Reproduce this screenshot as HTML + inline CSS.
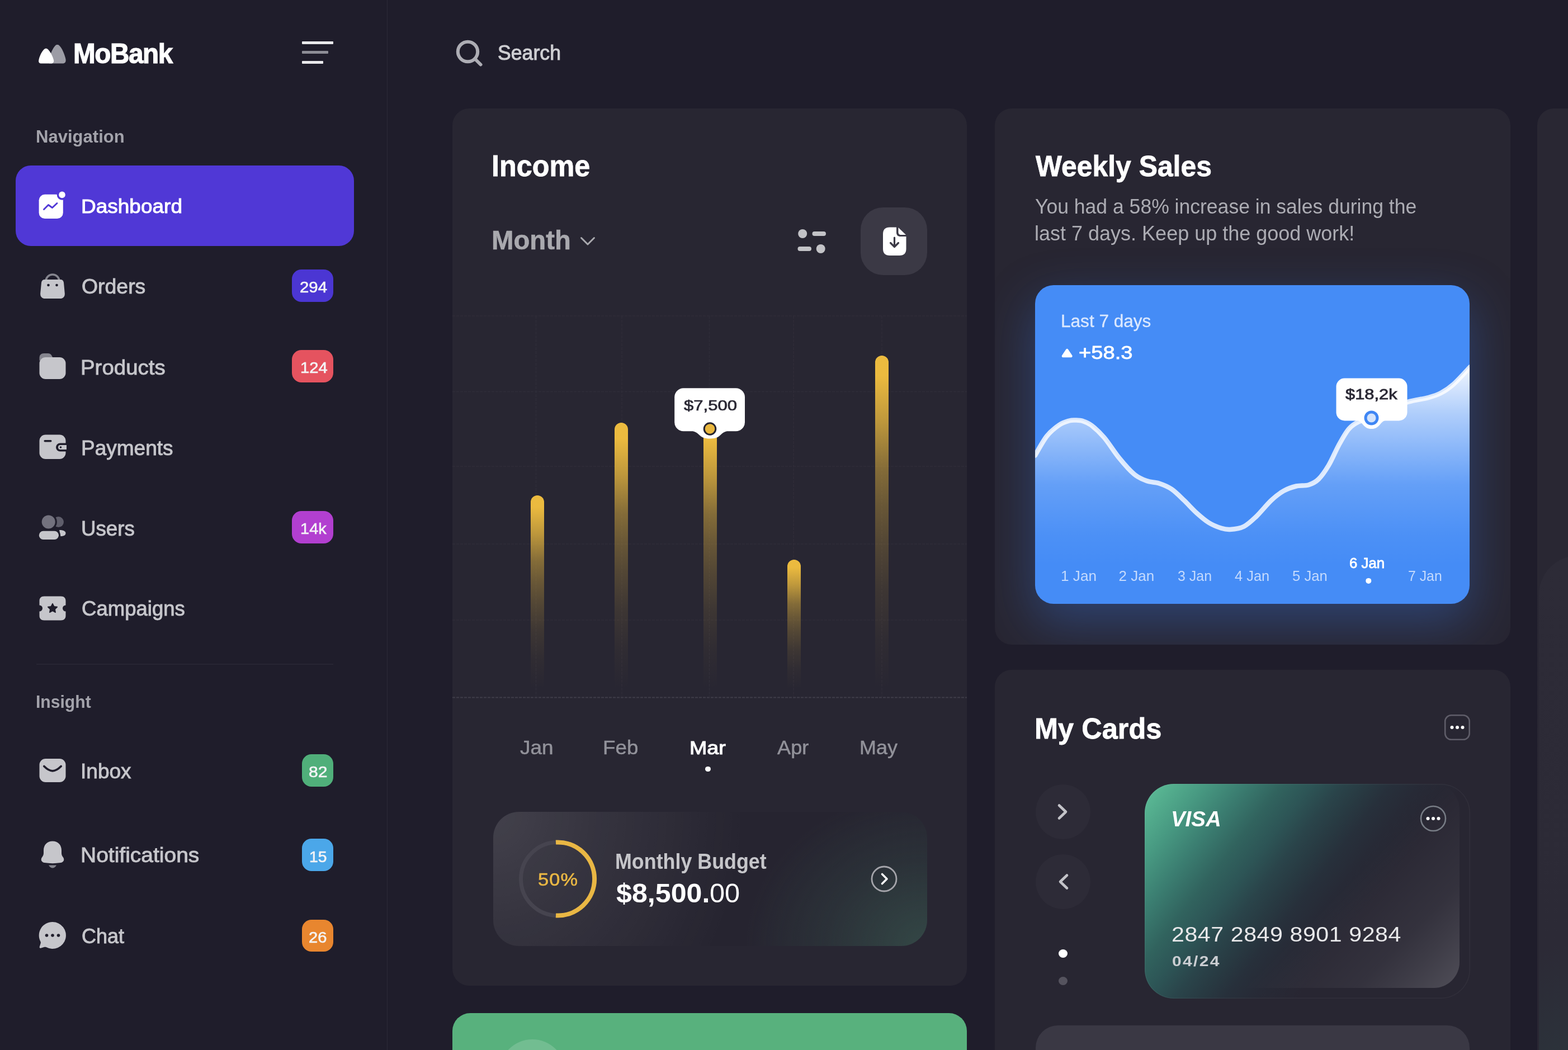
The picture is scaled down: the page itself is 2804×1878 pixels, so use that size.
<!DOCTYPE html>
<html lang="en">
<head>
<meta charset="utf-8">
<title>MoBank Dashboard</title>
<style>
html,body{margin:0;padding:0}
body{background:#1f1d2b;font-family:"Liberation Sans",Arial,sans-serif}
.page{position:relative;width:2804px;height:1878px;overflow:hidden;background:#1f1d2b}
.g{display:contents}
.a{position:absolute;display:block}
.t{position:absolute;white-space:nowrap;line-height:1;transform-origin:0 0}
.sb{position:absolute;left:0;top:0;width:692px;height:1878px;border-right:1.6px solid #2c2a38}
.card{background:#282632;border-radius:30px}
.bdg{height:57.5px;border-radius:17px;color:#fff;font-weight:700;font-size:27.5px;line-height:65.5px;text-align:center;letter-spacing:.6px}
.bar{width:24px;border-radius:12px 12px 0 0;background:linear-gradient(180deg,#ecbb3f 0%,#ebba3f 6%,rgba(235,186,63,.76) 20%,rgba(235,186,63,.47) 34%,rgba(235,186,63,.33) 45%,rgba(235,186,63,.22) 56%,rgba(235,186,63,.11) 70%,rgba(235,186,63,.04) 85%,rgba(235,186,63,0) 100%)}
</style>
</head>
<body>
<div class="page">
<aside class="g" aria-label="Sidebar navigation">
<div class="sb"></div>
<svg class="a" style="left:66px;top:76px" width="56" height="42" viewBox="0 0 56 42">
<path d="M22 37.5 L22 30 C24 20 29 9 33 5.5 C35 3.6 38 3.6 40 5.5 C45 10 50 22 51.5 30 C52.3 35 50 37.5 46 37.5 Z" fill="#9c9ca5"/>
<path d="M7.5 37.5 C4 37.5 2.6 35 3.3 31.5 C4.5 25 8.5 16.5 12.5 12.5 C14.7 10.3 17.8 10.3 20 12.5 C24 16.5 28.5 25 30 31.5 C30.8 35 29 37.5 25.5 37.5 Z" fill="#fff"/>
</svg>
<div class="t" style="left:130.7px;top:71px;transform:scaleX(0.944);font-size:50.5px;color:#fff;font-weight:700;letter-spacing:-1.5px;-webkit-text-stroke:1.2px #fff;">MoBank</div>
<div class="a" style="left:540px;top:74.4px;width:56px;height:5px;background:#e9e9ec;border-radius:1px"></div>
<div class="a" style="left:540px;top:91.4px;width:47px;height:5px;background:#8d8d96;border-radius:1px"></div>
<div class="a" style="left:540px;top:108.6px;width:38px;height:5px;background:#e9e9ec;border-radius:1px"></div>
<div class="t" style="left:63.5px;top:228px;transform:scaleX(0.97);font-size:32px;color:#a3a3ab;font-weight:700;">Navigation</div>
<div class="a" style="left:28px;top:295.5px;width:604.5px;height:144px;border-radius:27px;background:#5038d6"></div>
<svg class="a" style="left:66px;top:338px" width="56" height="56" viewBox="0 0 56 56">
<rect x="3.6" y="9.8" width="43.2" height="43.2" rx="10.5" fill="#fff"/>
<circle cx="45" cy="10.4" r="9.3" fill="#5038d6"/>
<circle cx="45" cy="10.4" r="5.8" fill="#fff"/>
<path d="M12.5 36.5 L20.5 28.5 L27.5 33.5 L36 25.5" fill="none" stroke="#5038d6" stroke-width="2.9" stroke-linecap="round" stroke-linejoin="round"/>
</svg>
<div class="t" style="left:144.7px;top:352px;transform:scaleX(1.042);font-size:35.5px;color:#fff;-webkit-text-stroke:1px #fff;">Dashboard</div>
<div class="t" style="left:145.8px;top:495px;transform:scaleX(1.039);font-size:36px;color:#c6c6cb;-webkit-text-stroke:0.9px #c6c6cb;">Orders</div>
<div class="a bdg" style="left:522px;top:482px;width:74px;background:#4b36d3"></div>
<div class="t" style="left:536.4px;top:500px;transform:scaleX(1.067);font-size:27.5px;color:#f4f4f6;-webkit-text-stroke:0.6px #f4f4f6;">294</div>
<div class="t" style="left:144.4px;top:640px;transform:scaleX(1.067);font-size:36px;color:#c6c6cb;-webkit-text-stroke:0.9px #c6c6cb;">Products</div>
<div class="a bdg" style="left:522px;top:626px;width:74px;background:#e5535f"></div>
<div class="t" style="left:536.6px;top:644px;transform:scaleX(1.063);font-size:27.5px;color:#f4f4f6;-webkit-text-stroke:0.6px #f4f4f6;">124</div>
<div class="t" style="left:144.5px;top:784px;transform:scaleX(1.028);font-size:36px;color:#c6c6cb;-webkit-text-stroke:0.9px #c6c6cb;">Payments</div>
<div class="t" style="left:144.8px;top:928px;transform:scaleX(1.019);font-size:36px;color:#c6c6cb;-webkit-text-stroke:0.9px #c6c6cb;">Users</div>
<div class="a bdg" style="left:522px;top:914px;width:74px;background:#b23fd0"></div>
<div class="t" style="left:536.8px;top:932px;transform:scaleX(1.056);font-size:27.5px;color:#f4f4f6;-webkit-text-stroke:0.6px #f4f4f6;">14k</div>
<div class="t" style="left:145.8px;top:1071px;transform:scaleX(1.015);font-size:36px;color:#c6c6cb;-webkit-text-stroke:0.9px #c6c6cb;">Campaigns</div>
<div class="t" style="left:144.3px;top:1362px;transform:scaleX(1.029);font-size:36px;color:#c6c6cb;-webkit-text-stroke:0.9px #c6c6cb;">Inbox</div>
<div class="a bdg" style="left:540px;top:1349px;width:56px;background:#50af7a"></div>
<div class="t" style="left:551.7px;top:1367px;transform:scaleX(1.096);font-size:27.5px;color:#f4f4f6;-webkit-text-stroke:0.6px #f4f4f6;">82</div>
<div class="t" style="left:144.4px;top:1512px;transform:scaleX(1.083);font-size:36px;color:#c6c6cb;-webkit-text-stroke:0.9px #c6c6cb;">Notifications</div>
<div class="a bdg" style="left:540px;top:1500.3px;width:56px;background:#4ba7e9"></div>
<div class="t" style="left:552.5px;top:1519px;transform:scaleX(1.029);font-size:27.5px;color:#f4f4f6;-webkit-text-stroke:0.6px #f4f4f6;">15</div>
<div class="t" style="left:145.9px;top:1657px;font-size:36px;color:#c6c6cb;-webkit-text-stroke:0.9px #c6c6cb;">Chat</div>
<div class="a bdg" style="left:540px;top:1644.7px;width:56px;background:#e8862f"></div>
<div class="t" style="left:552.1px;top:1663px;transform:scaleX(1.061);font-size:27.5px;color:#f4f4f6;-webkit-text-stroke:0.6px #f4f4f6;">26</div>
<div class="a" style="left:65px;top:1187px;width:531px;height:2px;background:#272533"></div>
<div class="t" style="left:63.5px;top:1239px;transform:scaleX(0.941);font-size:32px;color:#a3a3ab;font-weight:700;">Insight</div>
<svg class="a" style="left:66px;top:483.5px" width="56" height="56" viewBox="0 0 56 56"><path d="M16 24 v-5 a12 12 0 0 1 24 0 v5" fill="none" stroke="#85858e" stroke-width="3.6"/>
<path d="M14 16 h28 c3.5 0 5.6 2 6 5.5 l1.8 19 c.5 5.5 -2.6 9.5 -8.5 9.5 h-26.6 c-5.9 0 -9 -4 -8.5 -9.5 l1.8 -19 c.4 -3.5 2.5 -5.5 6 -5.5z" fill="#c6c6cb"/>
<circle cx="20.5" cy="26" r="2.3" fill="#1f1d2b"/><circle cx="35.5" cy="26" r="2.3" fill="#1f1d2b"/></svg>
<svg class="a" style="left:66px;top:627px" width="56" height="56" viewBox="0 0 56 56"><path d="M4.5 18 v-5 c0 -5 3 -8 8 -8 h7 c3.5 0 5.5 1.5 7 4 l3 6z" fill="#85858e"/>
<rect x="4.5" y="12" width="47" height="39" rx="11" fill="#c6c6cb"/></svg>
<svg class="a" style="left:66px;top:771px" width="56" height="56" viewBox="0 0 56 56"><rect x="4.5" y="6.5" width="47" height="43.5" rx="11" fill="#c6c6cb"/>
<rect x="12.5" y="16" width="14" height="3.5" rx="1.7" fill="#1f1d2b"/>
<path d="M53 21.5 h-11.5 a7.5 7.5 0 0 0 0 15 h11.5z" fill="#1f1d2b"/>
<path d="M53 25 h-11 a4 4 0 0 0 0 8 h11z" fill="#c6c6cb"/>
<circle cx="42.5" cy="29" r="1.8" fill="#1f1d2b"/></svg>
<svg class="a" style="left:66px;top:915px" width="56" height="56" viewBox="0 0 56 56"><circle cx="38.5" cy="18.6" r="9.5" fill="#5f5e6b"/>
<circle cx="20.7" cy="18.6" r="15.2" fill="#1f1d2b"/>
<circle cx="20.7" cy="18.6" r="12" fill="#73727e"/>
<path d="M40 33 c6.5 0 11.5 1.8 11.5 5.6 c0 3.8 -3.5 5.6 -9 5.6z" fill="#c6c6cb"/>
<rect x="0.5" y="31.7" width="41.5" height="21.3" rx="10.6" fill="#1f1d2b"/>
<rect x="3.8" y="34.7" width="35.2" height="15.3" rx="7.6" fill="#c6c6cb"/></svg>
<svg class="a" style="left:66px;top:1059.5px" width="56" height="56" viewBox="0 0 56 56"><path d="M13 6.5 h30 c5.5 0 8.5 3 8.5 8.5 v7.5 a5.5 5.5 0 0 0 0 11 v7.5 c0 5.5 -3 8.5 -8.5 8.5 h-30 c-5.5 0 -8.5 -3 -8.5 -8.5 v-7.5 a5.5 5.5 0 0 0 0 -11 v-7.5 c0 -5.5 3 -8.5 8.5 -8.5z" fill="#c6c6cb"/>
<path d="M28 19.5 l2.6 5.2 l5.7 .9 l-4.1 4 l1 5.7 l-5.2 -2.7 l-5.2 2.7 l1 -5.7 l-4.1 -4 l5.7 -.9z" fill="#1f1d2b" stroke="#1f1d2b" stroke-width="1.5" stroke-linejoin="round"/></svg>
<svg class="a" style="left:66px;top:1349.7px" width="56" height="56" viewBox="0 0 56 56"><rect x="4.5" y="7" width="47" height="42" rx="11" fill="#c6c6cb"/>
<path d="M12.8 20.5 c5.5 5.5 10.5 8.3 15.2 8.3 c4.7 0 9.7 -2.8 15.2 -8.3" fill="none" stroke="#1f1d2b" stroke-width="3.8" stroke-linecap="round"/></svg>
<svg class="a" style="left:66px;top:1500.7px" width="56" height="56" viewBox="0 0 56 56"><path d="M28 3.5 c-10 0 -16 7 -16 16.5 v5 c0 3 -1.2 5 -3 7.5 c-2.5 3.5 -1.5 8.5 4.5 9.5 c10 1.5 19 1.5 29 0 c6 -1 7 -6 4.5 -9.5 c-1.8 -2.5 -3 -4.5 -3 -7.5 v-5 c0 -9.5 -6 -16.5 -16 -16.5z" fill="#c6c6cb"/>
<path d="M21 46.5 c2 3.5 4.5 5 7 5 c2.5 0 5 -1.5 7 -5z" fill="#85858e"/></svg>
<svg class="a" style="left:66px;top:1645px" width="56" height="56" viewBox="0 0 56 56"><path d="M28 4 a24 24 0 1 1 -11.5 45.1 c-1 -.5 -2 -.6 -3 -.3 l-6.5 2 c-1.5 .5 -2.8 -.9 -2.3 -2.4 l2 -6.3 c.3 -1 .2 -2 -.3 -3 a24 24 0 0 1 21.6 -35.1z" fill="#c6c6cb"/>
<circle cx="17.5" cy="28" r="2.8" fill="#1f1d2b"/><circle cx="28" cy="28" r="2.8" fill="#1f1d2b"/><circle cx="38.5" cy="28" r="2.8" fill="#1f1d2b"/></svg>
</aside>
<header class="g" aria-label="Search">
<svg class="a" style="left:810px;top:66px" width="60" height="60" viewBox="0 0 60 60">
<circle cx="26.5" cy="26.5" r="17.7" fill="none" stroke="#adadb4" stroke-width="6"/>
<path d="M39.5 39.5 L49.5 49.5" stroke="#adadb4" stroke-width="6" stroke-linecap="round"/></svg>
<div class="t" style="left:890.3px;top:77px;transform:scaleX(0.977);font-size:36.5px;color:#cfcfd3;-webkit-text-stroke:1px #cfcfd3;">Search</div>
</header>
<section class="g" aria-label="Income">
<div class="a card" style="left:809px;top:194px;width:920px;height:1569px"></div>
<div class="t" style="left:879.3px;top:270px;transform:scaleX(0.941);font-size:53.5px;color:#fff;font-weight:700;-webkit-text-stroke:0.8px #fff;">Income</div>
<div class="t" style="left:879.4px;top:406px;transform:scaleX(0.985);font-size:48px;color:#a9a9ae;font-weight:700;-webkit-text-stroke:0.6px #a9a9ae;">Month</div>
<svg class="a" style="left:1033px;top:417px" width="36" height="28" viewBox="0 0 36 28"><path d="M6.5 8.5 L18 20 L29.5 8.5" fill="none" stroke="#a9a9ae" stroke-width="3" stroke-linecap="round" stroke-linejoin="round"/></svg>
<svg class="a" style="left:1420px;top:404px" width="64" height="56" viewBox="0 0 64 56">
<circle cx="15.2" cy="14" r="8" fill="#c3c3c7"/><rect x="32.5" y="10" width="24.5" height="8" rx="4" fill="#c3c3c7"/>
<rect x="6.5" y="37" width="24.5" height="8" rx="4" fill="#c3c3c7"/><circle cx="47.7" cy="41" r="8" fill="#c3c3c7"/></svg>
<div class="a" style="left:1539px;top:371px;width:118.5px;height:120.5px;border-radius:40px;background:#3b3945"></div>
<svg class="a" style="left:1570px;top:400px" width="60" height="64" viewBox="0 0 60 64">
<path d="M21 6.5 h12 v9 c0 5 2.5 7.5 7.5 7.5 h10 v22 c0 8 -4 12 -12 12 h-17.5 c-8 0 -12 -4 -12 -12 v-26.5 c0 -8 4 -12 12 -12z" fill="#fff"/>
<path d="M36.5 7 l13.5 13 h-8.5 c-3.5 0 -5 -1.5 -5 -5z" fill="#fff"/>
<path d="M29.5 25 v15 M22.5 34.5 l7 7 l7 -7" fill="none" stroke="#3b3945" stroke-width="3.2" stroke-linecap="round" stroke-linejoin="round"/></svg>
<svg class="a" style="left:809px;top:540px" width="920" height="730" viewBox="809 540 920 730"><path d="M809 565 H1729" stroke="#2f2d39" stroke-width="1.5" stroke-dasharray="5 2"/><path d="M809 700.5 H1729" stroke="#2f2d39" stroke-width="1.5" stroke-dasharray="5 2"/><path d="M809 834 H1729" stroke="#2f2d39" stroke-width="1.5" stroke-dasharray="5 2"/><path d="M809 973 H1729" stroke="#2f2d39" stroke-width="1.5" stroke-dasharray="5 2"/><path d="M809 1109 H1729" stroke="#2f2d39" stroke-width="1.5" stroke-dasharray="5 2"/><path d="M809 1247.5 H1729" stroke="#3f3d49" stroke-width="2.2" stroke-dasharray="5 2"/><path d="M958.5 565 V1247" stroke="#2f2d39" stroke-width="1.5" stroke-dasharray="5 2"/><path d="M1112 565 V1247" stroke="#2f2d39" stroke-width="1.5" stroke-dasharray="5 2"/><path d="M1268.5 565 V1247" stroke="#2f2d39" stroke-width="1.5" stroke-dasharray="5 2"/><path d="M1419 565 V1247" stroke="#2f2d39" stroke-width="1.5" stroke-dasharray="5 2"/><path d="M1577 565 V1247" stroke="#2f2d39" stroke-width="1.5" stroke-dasharray="5 2"/></svg>
<div class="a bar" style="left:948.8px;top:886px;height:346px"></div>
<div class="a bar" style="left:1099px;top:756px;height:476px"></div>
<div class="a bar" style="left:1257.5px;top:758px;height:474px"></div>
<div class="a bar" style="left:1407.8px;top:1001px;height:231px"></div>
<div class="a bar" style="left:1565.3px;top:636px;height:596px"></div>
<svg class="a" style="left:1195px;top:683px" width="150" height="112" viewBox="1195 683 150 112">
<rect x="1206.2" y="694.3" width="125.8" height="77" rx="16" fill="#fff"/>
<path d="M1228 770 c12 0 17 2.5 22 7.5 c4.5 4.5 9.5 7 19.5 7 c10 0 15 -2.5 19.5 -7 c5 -5 10 -7.5 22 -7.5z" fill="#fff"/>
<circle cx="1269.5" cy="767" r="10.3" fill="#e9b73e" stroke="#26242f" stroke-width="3"/></svg>
<div class="t" style="left:1222.6px;top:713px;transform:scaleX(1.244);font-size:25px;color:#2a2834;-webkit-text-stroke:0.7px #2a2834;">$7,500</div>
<div class="t" style="left:930.4px;top:1320px;transform:scaleX(1.071);font-size:34.5px;color:#92929a;-webkit-text-stroke:0.5px #92929a;">Jan</div>
<div class="t" style="left:1077.9px;top:1320px;transform:scaleX(1.065);font-size:34.5px;color:#92929a;-webkit-text-stroke:0.5px #92929a;">Feb</div>
<div class="t" style="left:1233px;top:1321px;transform:scaleX(1.123);font-size:33.5px;color:#fff;-webkit-text-stroke:1.1px #fff;">Mar</div>
<div class="t" style="left:1390.3px;top:1320px;transform:scaleX(1.049);font-size:34.5px;color:#92929a;-webkit-text-stroke:0.5px #92929a;">Apr</div>
<div class="t" style="left:1537.2px;top:1320px;transform:scaleX(1.043);font-size:34.5px;color:#92929a;-webkit-text-stroke:0.5px #92929a;">May</div>
<div class="a" style="left:1261px;top:1370.5px;width:9.5px;height:9.5px;border-radius:50%;background:#fff"></div>
<div class="a" style="left:881.5px;top:1451.5px;width:776.5px;height:240.5px;border-radius:46px;background:radial-gradient(ellipse 58% 210% at 0% 0%,rgba(255,255,255,.135) 0%,rgba(255,255,255,.065) 45%,rgba(255,255,255,0) 100%),radial-gradient(ellipse 42% 115% at 100% 100%,rgba(70,120,100,.42) 0%,rgba(70,120,100,.16) 55%,rgba(70,120,100,0) 100%),#262430"></div>
<svg class="a" style="left:916.8px;top:1492.3px" width="160" height="160" viewBox="0 0 160 160">
<circle cx="80" cy="80" r="65.5" fill="none" stroke="#46444f" stroke-width="7"/>
<path d="M77 14.6 A65.5 65.5 0 1 1 77 145.4" fill="none" stroke="#e9b744" stroke-width="8"/></svg>
<div class="t" style="left:962.3px;top:1557px;transform:scaleX(1.074);font-size:32px;color:#e9b744;letter-spacing:1px;-webkit-text-stroke:0.6px #e9b744;">50%</div>
<div class="t" style="left:1099.8px;top:1522px;transform:scaleX(0.943);font-size:38px;color:#c6c6ca;font-weight:700;">Monthly Budget</div>
<div class="t" style="left:1101.7px;top:1574px;transform:scaleX(1.056);font-size:47.5px;color:#fff;font-weight:700;">$8,500.</div>
<div class="t" style="left:1268.7px;top:1574px;transform:scaleX(1.025);font-size:47.5px;color:#fff;">00</div>
<svg class="a" style="left:1550.8px;top:1542px" width="60" height="60" viewBox="0 0 60 60">
<circle cx="30" cy="30" r="22" fill="none" stroke="#a4a4aa" stroke-width="2.8"/>
<path d="M26.5 21.5 L35 30 L26.5 38.5" fill="none" stroke="#fff" stroke-width="3.6" stroke-linecap="round" stroke-linejoin="round"/></svg>
<div class="a" style="left:809px;top:1811.5px;width:920px;height:120px;border-radius:32px;background:#58b17d;overflow:hidden"><div class="a" style="left:84px;top:47px;width:118px;height:118px;border-radius:50%;background:rgba(255,255,255,.16)"></div></div>
</section>
<section class="g" aria-label="Weekly Sales">
<div class="a card" style="left:1779px;top:194px;width:922px;height:958.5px;overflow:hidden"><div class="a" style="left:71.5px;top:315.5px;width:777.5px;height:570px;border-radius:33px;background:#458cf6;box-shadow:0 32px 86px 4px rgba(58,120,230,.34)"></div></div>
<div class="t" style="left:1852px;top:271px;transform:scaleX(0.949);font-size:52.5px;color:#fff;font-weight:700;-webkit-text-stroke:0.8px #fff;">Weekly Sales</div>
<div class="t" style="left:1850.8px;top:352px;transform:scaleX(0.987);font-size:36px;color:#acacb3;">You had a 58% increase in sales during the</div>
<div class="t" style="left:1850px;top:400px;font-size:36px;color:#acacb3;">last 7 days. Keep up the good work!</div>
<div class="a" style="left:1850.5px;top:509.5px;width:777.5px;height:570px;border-radius:33px;overflow:hidden"><div class="a" style="left:0;top:0;width:777.5px;height:570px;background:linear-gradient(180deg,rgba(255,255,255,.95) 140.5px,rgba(255,255,255,.57) 230.5px,rgba(255,255,255,.17) 356.5px,rgba(255,255,255,.04) 446.5px,rgba(255,255,255,0) 500.5px);clip-path:path('M0 304.5 C3.5 298.8 13.8 279.1 21 270 C28.2 260.9 36.6 254.6 43.3 250 C50 245.4 56.2 243.9 61 242.5 C65.8 241.1 68.2 241.4 72.3 241.5 C76.4 241.6 80.7 241.5 85.5 243.1 C90.3 244.7 95 246.2 101.3 251.1 C107.6 256 115.3 262.9 123.5 272.5 C131.7 282.1 141.4 298.1 150.3 309 C159.2 319.9 168.9 331.1 177.1 338 C185.3 344.9 192 347.4 199.4 350.1 C206.8 352.9 214.3 352.1 221.7 354.5 C229.1 356.9 236.6 359.7 244 364.8 C251.4 369.8 258.9 377.7 266.3 384.8 C273.7 391.8 281.1 400.4 288.5 407.1 C295.9 413.8 303.5 420.4 310.9 425 C318.4 429.6 326.9 432.8 333.2 434.8 C339.5 436.8 342.1 437.5 348.8 437 C355.5 436.5 365.5 435.6 373.3 431.7 C381.1 427.8 387.3 421.6 395.5 413.8 C403.7 406 414.2 392.4 422.4 384.8 C430.6 377.1 437.3 372.1 444.7 367.9 C452.1 363.7 459.6 361.3 467 359.5 C474.4 357.7 482.6 359.3 489.3 357.2 C496 355.1 501.2 352.7 507.1 346.9 C513 341.1 519 332.4 524.9 322.4 C530.9 312.4 536.9 297.5 542.8 286.7 C548.8 275.9 554.6 264.8 560.6 257.7 C566.5 250.7 571.7 247.7 578.5 244.4 C585.3 241.1 592.2 241.5 601.5 237.7 C610.8 233.9 623.5 226.3 634.5 221.5 C645.5 216.7 656 212.1 667.5 208.7 C679 205.3 693.6 203.7 703.3 201.1 C713 198.5 718.1 197 725.5 193.1 C732.9 189.2 739.2 185.3 747.9 177.5 C756.7 169.7 773 151.4 778 146.2 V571 H0 Z')"></div></div>
<svg class="a" style="left:1850.5px;top:509.5px;border-radius:33px" width="777.5" height="570" viewBox="1850.5 509.5 777.5 570">
<path d="M1850.5 814 C1854 808.2 1864.3 788.6 1871.5 779.5 C1878.7 770.4 1887.1 764.1 1893.8 759.5 C1900.5 754.9 1906.7 753.4 1911.5 752 C1916.3 750.6 1918.7 750.9 1922.8 751 C1926.9 751.1 1931.2 751 1936 752.6 C1940.8 754.2 1945.5 755.7 1951.8 760.6 C1958.1 765.5 1965.8 772.4 1974 782 C1982.2 791.6 1991.9 807.6 2000.8 818.5 C2009.7 829.4 2019.4 840.6 2027.6 847.5 C2035.8 854.4 2042.5 856.9 2049.9 859.6 C2057.3 862.4 2064.8 861.5 2072.2 864 C2079.6 866.5 2087.1 869.2 2094.5 874.3 C2101.9 879.3 2109.4 887.2 2116.8 894.3 C2124.2 901.3 2131.6 909.9 2139 916.6 C2146.4 923.3 2154 929.9 2161.4 934.5 C2168.8 939.1 2177.4 942.3 2183.7 944.3 C2190 946.3 2192.6 947 2199.3 946.5 C2206 946 2216 945.1 2223.8 941.2 C2231.6 937.3 2237.8 931.1 2246 923.3 C2254.2 915.5 2264.7 901.9 2272.9 894.3 C2281.1 886.6 2287.8 881.6 2295.2 877.4 C2302.6 873.2 2310.1 870.8 2317.5 869 C2324.9 867.2 2333.1 868.8 2339.8 866.7 C2346.5 864.6 2351.7 862.2 2357.6 856.4 C2363.5 850.6 2369.4 841.9 2375.4 831.9 C2381.4 821.9 2387.4 807 2393.3 796.2 C2399.2 785.4 2405.2 774.2 2411.1 767.2 C2417 760.2 2422.2 757.2 2429 753.9 C2435.8 750.6 2442.7 751 2452 747.2 C2461.3 743.4 2474 735.8 2485 731 C2496 726.2 2506.5 721.6 2518 718.2 C2529.5 714.8 2544.1 713.2 2553.8 710.6 C2563.5 708 2568.6 706.5 2576 702.6 C2583.4 698.7 2589.7 694.8 2598.4 687 C2607.2 679.2 2623.5 660.9 2628.5 655.7" fill="none" stroke="#fff" stroke-opacity=".8" stroke-width="8.5" stroke-linecap="round"/>
<rect x="2389" y="676" width="127" height="76" rx="15" fill="#fff"/>
<path d="M2418 750 c10 0 14 3 18 8 c4 5 8 8.5 16 8.5 c8 0 12 -3.5 16 -8.5 c4 -5 8 -8 18 -8z" fill="#fff"/>
<circle cx="2452" cy="747" r="10.5" fill="#d3e3fc" stroke="#3f86f4" stroke-width="5"/>
<path d="M1907.7 623.3 c-.8 0 -1.5 .4 -2 1.1 l-7 10.5 c-1.2 1.8 0 3.9 2.2 3.9 h13.6 c2.2 0 3.4 -2.1 2.2 -3.9 l-7 -10.5 c-.5 -.7 -1.2 -1.1 -2 -1.1z" fill="#fff"/>
<circle cx="2446.8" cy="1038.4" r="5" fill="#fff"/>
</svg>
<div class="t" style="left:1896.7px;top:559px;transform:scaleX(1.018);font-size:31px;color:#dbe8fe;-webkit-text-stroke:0.3px #dbe8fe;">Last 7 days</div>
<div class="t" style="left:1929.2px;top:614px;transform:scaleX(1.157);font-size:33px;color:#fff;-webkit-text-stroke:0.8px #fff;">+58.3</div>
<div class="t" style="left:2405.6px;top:693px;transform:scaleX(1.209);font-size:25.5px;color:#2a2834;-webkit-text-stroke:0.8px #2a2834;">$18,2k</div>
<div class="t" style="left:1897px;top:1017px;transform:scaleX(1.007);font-size:26px;color:#c4dafd;">1 Jan</div>
<div class="t" style="left:2000.5px;top:1017px;font-size:26px;color:#c4dafd;">2 Jan</div>
<div class="t" style="left:2105.5px;top:1017px;transform:scaleX(0.959);font-size:26px;color:#c4dafd;">3 Jan</div>
<div class="t" style="left:2207.7px;top:1017px;transform:scaleX(0.979);font-size:26px;color:#c4dafd;">4 Jan</div>
<div class="t" style="left:2310.7px;top:1017px;transform:scaleX(0.987);font-size:26px;color:#c4dafd;">5 Jan</div>
<div class="t" style="left:2518.3px;top:1017px;transform:scaleX(0.955);font-size:26px;color:#c4dafd;">7 Jan</div>
<div class="t" style="left:2412.5px;top:995px;transform:scaleX(1.031);font-size:25px;color:#fff;-webkit-text-stroke:0.8px #fff;">6 Jan</div>
</section>
<section class="g" aria-label="My Cards">
<div class="a card" style="left:1779px;top:1198px;width:922px;height:760px"></div>
<div class="t" style="left:1849.7px;top:1277px;transform:scaleX(0.962);font-size:52.5px;color:#fff;font-weight:700;-webkit-text-stroke:0.8px #fff;">My Cards</div>
<svg class="a" style="left:2576px;top:1271px" width="60" height="60" viewBox="0 0 60 60">
<rect x="8.2" y="8.3" width="43.5" height="43.5" rx="11" fill="none" stroke="#5f5d69" stroke-width="2.6"/>
<circle cx="20.5" cy="30" r="3" fill="#fff"/><circle cx="30" cy="30" r="3" fill="#fff"/><circle cx="39.5" cy="30" r="3" fill="#fff"/></svg>
<div class="a" style="left:1851.5px;top:1403px;width:98px;height:98px;border-radius:50%;background:#2d2b37"></div>
<svg class="a" style="left:1870.5px;top:1422px" width="60" height="60" viewBox="0 0 60 60"><path d="M23 18.5 L35 30 L23 41.5" fill="none" stroke="#c3c3c8" stroke-width="4.6" stroke-linecap="round" stroke-linejoin="round"/></svg>
<div class="a" style="left:1851.5px;top:1528px;width:98px;height:98px;border-radius:50%;background:#2d2b37"></div>
<svg class="a" style="left:1870.5px;top:1547px" width="60" height="60" viewBox="0 0 60 60"><path d="M37 18.5 L25 30 L37 41.5" fill="none" stroke="#c3c3c8" stroke-width="4.6" stroke-linecap="round" stroke-linejoin="round"/></svg>
<div class="a" style="left:1892.5px;top:1697.5px;width:16px;height:15px;border-radius:50%;background:#fff"></div>
<div class="a" style="left:1892.5px;top:1747px;width:16px;height:15px;border-radius:50%;background:#55535e"></div>
<div class="a" style="left:2046.5px;top:1401.5px;width:582px;height:384px;border-radius:52px;background:linear-gradient(128deg,#60c09b 0%,#55b08f 5%,#489a82 12%,#3b7e71 20%,#31635e 28%,#2d5556 34%,#2a444a 40%,#283a42 45%,#27303b 50%,#272a36 56%,#282632 65%,#282632 100%);box-shadow:inset 0 0 0 1.5px rgba(255,255,255,.045)"></div>
<div class="a" style="left:2046.5px;top:1401.5px;width:563px;height:365.5px;border-radius:52px 46px 46px 52px;background:linear-gradient(135deg,rgba(255,255,255,0) 58%,rgba(255,255,255,.022) 67%,rgba(255,255,255,.055) 80%,rgba(255,255,255,.1) 88%,rgba(255,255,255,.185) 100%)"></div>
<div class="t" style="left:2093.9px;top:1446px;font-size:38.5px;color:#fff;font-weight:700;font-style:italic;">VISA</div>
<svg class="a" style="left:2532.6px;top:1434px" width="60" height="60" viewBox="0 0 60 60">
<circle cx="30" cy="30" r="22" fill="none" stroke="#777c85" stroke-width="2.6"/>
<circle cx="20.5" cy="30" r="3" fill="#fff"/><circle cx="30" cy="30" r="3" fill="#fff"/><circle cx="39.5" cy="30" r="3" fill="#fff"/></svg>
<div class="t" style="left:2095.2px;top:1654px;transform:scaleX(1.142);font-size:36px;color:#e8e8ea;letter-spacing:0.5px;">2847 2849 8901 9284</div>
<div class="t" style="left:2096px;top:1706px;transform:scaleX(1.154);font-size:26px;color:#cbced2;font-weight:700;letter-spacing:2px;">04/24</div>
<div class="a" style="left:1851.5px;top:1834px;width:776px;height:120px;border-radius:40px;background:#3a3844"></div>
</section>
<section class="g" aria-label="More">
<div class="a" style="left:2748.5px;top:194px;width:200px;height:1800px;border-radius:30px;background:#292733;overflow:hidden"><div class="a" style="left:3px;top:800px;width:400px;height:900px;border-radius:70px 0 0 0;background:linear-gradient(165deg,#2d2b37 0%,#2c2a36 70%,#2c333b 92%,#2d3a40 100%)"></div></div>
</section>
</div>
</body>
</html>
